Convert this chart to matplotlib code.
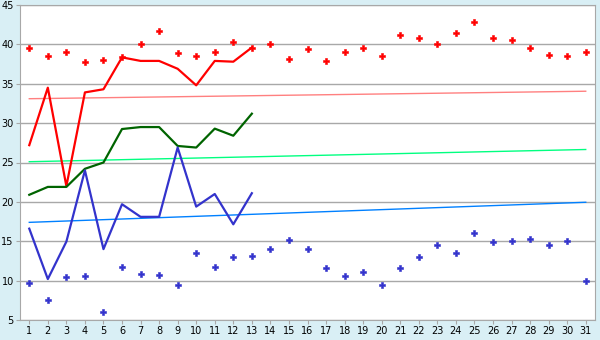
import numpy as np
import matplotlib.pyplot as plt

days = list(range(1, 32))

red_pts = [39.6, 38.5, 39.0, 37.7, 38.0, 38.4, 40.0, 41.7, 38.9, 38.5,
           39.0, 40.3, 39.6, 40.1, 38.2, 39.4, 37.85, 39.0, 39.5, 38.5,
           41.15, 40.8, 40.1, 41.4, 42.8, 40.8, 40.6, 39.5, 38.6, 38.5, 39.0]
blue_pts = [9.65, 7.5, 10.4, 10.55, 6.0, 11.7, 10.8, 10.7, 9.4, 13.5,
            11.7, 12.95, 13.1, 14.0, 15.1, 14.0, 11.55, 10.55, 11.05, 9.5,
            11.55, 12.95, 14.5, 13.45, 16.0, 14.85, 15.0, 15.25, 14.5, 15.0, 10.0]

red_line = [27.2, 34.5, 22.0, 33.9, 34.3, 38.35, 37.9, 37.9, 36.9, 34.8, 37.9, 37.8, 39.6]
green_line = [20.9, 21.9, 21.9, 24.2, 25.0, 29.25, 29.5, 29.5, 27.1, 26.9, 29.3, 28.4, 31.2]
blue_line = [16.6, 10.2, 14.95, 24.0, 14.0, 19.7, 18.1, 18.1, 26.9, 19.4, 21.0, 17.15, 21.1]

# trend lines: value at day 1 and day 31
trend_red = [33.1, 34.05]
trend_green = [25.1, 26.65]
trend_blue = [17.4, 19.95]

fig = plt.figure(figsize=(6, 3.4), dpi=100)
fig.patch.set_facecolor("#D9EFF5")
ax = fig.add_axes([20/600, 20/340, 575/600, 315/340])
ax.set_facecolor("white")

ax.plot([1, 31], trend_red, color="#FF8080", lw=1)
ax.plot([1, 31], trend_green, color="#00FF80", lw=1)
ax.plot([1, 31], trend_blue, color="#0080FF", lw=1)

n = len(red_line)
ax.plot(days[:n], red_line, color="#FF0000", lw=1.6)
ax.plot(days[:n], green_line, color="#006400", lw=1.6)
ax.plot(days[:n], blue_line, color="#3333CC", lw=1.6)

ax.plot(days, red_pts, ls="none", marker="P", ms=4.5, color="#FF0000", mew=0.4)
ax.plot(days, blue_pts, ls="none", marker="P", ms=4.5, color="#3333CC", mew=0.4)

ax.set_xlim(0.5, 31.5)
ax.set_ylim(5, 45)
ax.set_xticks(days)
ax.set_yticks(range(5, 46, 5))
ax.grid(axis="y", color="#A8A8A8", lw=1)
ax.set_axisbelow(True)
for s in ax.spines.values():
    s.set_color("#A8A8A8")
ax.tick_params(colors="#A8A8A8", labelcolor="black", labelsize=7, length=3, pad=1.5)

fig.savefig("out.png", facecolor=fig.get_facecolor())
